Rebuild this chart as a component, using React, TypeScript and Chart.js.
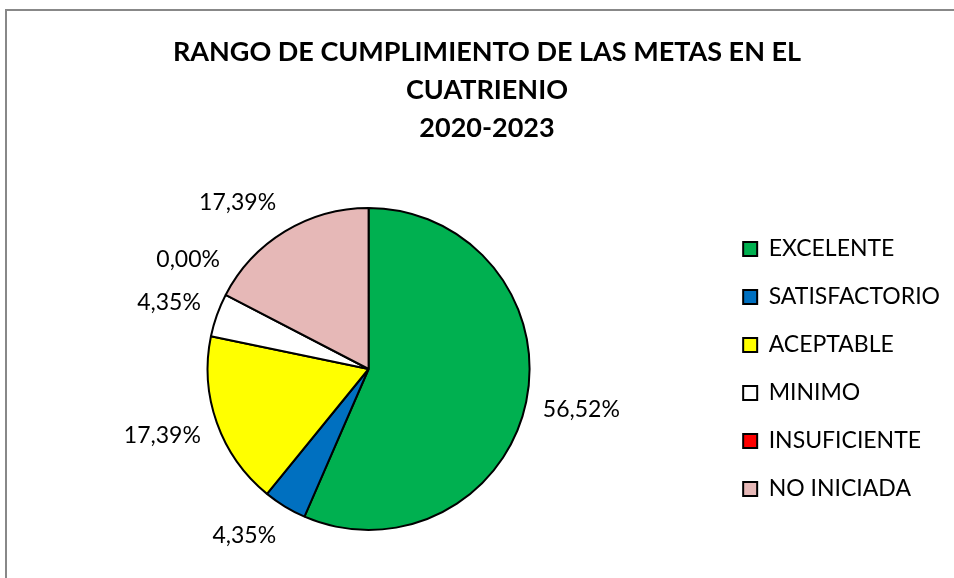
import React, { useEffect, useRef } from "react";
import { Chart, registerables } from "chart.js";

Chart.register(...registerables);

const categories = ["EXCELENTE", "SATISFACTORIO", "ACEPTABLE", "MINIMO", "INSUFICIENTE", "NO INICIADA"];
const percentages = [56.52, 4.35, 17.39, 4.35, 0.0, 17.39];
const sliceColors = ["#00B050", "#0070C0", "#FFFF00", "#FFFFFF", "#FF0000", "#E6B8B7"];
const titleLines = ["RANGO DE CUMPLIMIENTO DE LAS METAS EN EL", "CUATRIENIO", "2020-2023"];

const FONT = "Lato, 'Open Sans', sans-serif";

const fullWidthTitle = {
  id: "fullWidthTitle",
  afterLayout(chart: any) {
    const t = chart.titleBlock;
    if (t) {
      t.left = 0;
      t.right = chart.width;
      t.width = chart.width;
    }
  },
};

const outsideLabels = {
  id: "outsideLabels",
  afterDatasetsDraw(chart: any) {
    const ctx = chart.ctx;
    const meta = chart.getDatasetMeta(0);
    const data = chart.data.datasets[0].data as number[];
    ctx.save();
    ctx.font = `23px ${FONT}`;
    ctx.fillStyle = "#000";
    ctx.textAlign = "center";
    ctx.textBaseline = "middle";
    const placed: any[] = [];
    const h = 28;
    const gap = 17;
    const margin = 12;
    meta.data.forEach((arc: any, i: number) => {
      const { x, y, startAngle, endAngle, outerRadius } = arc.getProps(
        ["x", "y", "startAngle", "endAngle", "outerRadius"],
        true
      );
      const text = data[i].toFixed(2).replace(".", ",") + "%";
      const w = ctx.measureText(text).width;
      let a = (startAngle + endAngle) / 2;
      let box: any = null;
      for (let k = 0; k < 45; k++) {
        const cos = Math.cos(a);
        const sin = Math.sin(a);
        const d = outerRadius + gap;
        const cx = Math.max(-1, Math.min(1, cos * 2.5));
        const cy = Math.max(-1, Math.min(1, sin * 1.5));
        const bx = x + d * cos + (cx * w) / 2;
        const by = y + d * sin + (cy * h) / 2;
        box = { x: bx, y: by, l: bx - w / 2, r: bx + w / 2, t: by - h / 2, b: by + h / 2 };
        const hit = placed.some(
          (p) => box.l < p.r + margin && box.r > p.l - margin && box.t < p.b + margin && box.b > p.t - margin
        );
        if (!hit) break;
        a += Math.PI / 180;
      }
      placed.push(box);
      ctx.fillText(text, box.x, box.y);
    });
    ctx.restore();
  },
};

export default function App() {
  const canvasRef = useRef<HTMLCanvasElement | null>(null);

  useEffect(() => {
    if (!canvasRef.current) return;
    const chart = new Chart(canvasRef.current, {
      type: "pie",
      data: {
        labels: categories,
        datasets: [
          {
            data: percentages,
            backgroundColor: sliceColors,
            borderColor: "#000000",
            borderWidth: 2,
            radius: 161,
          },
        ],
      },
      options: {
        responsive: false,
        animation: false,
        devicePixelRatio: 1,
        layout: { padding: { left: 12, right: 17, top: 0, bottom: 70 } },
        plugins: {
          title: {
            display: true,
            text: titleLines,
            color: "#000",
            font: { family: FONT, size: 27, weight: "bold", lineHeight: 38 / 27 },
            padding: { top: 22, bottom: 50 },
          },
          legend: {
            display: true,
            position: "right",
            fullSize: false,
            labels: {
              color: "#000",
              font: { family: FONT, size: 23 },
              boxWidth: 14,
              boxHeight: 14,
              padding: 25,
            },
          },
          tooltip: { enabled: false },
        },
      },
      plugins: [fullWidthTitle, outsideLabels],
    });
    return () => chart.destroy();
  }, []);

  return (
    <div
      style={{
        position: "fixed",
        left: 5,
        top: 9,
        width: 962,
        height: 620,
        borderLeft: "2px solid #888888",
        borderTop: "2px solid #888888",
        background: "#fff",
      }}
    >
      <canvas ref={canvasRef} width={960} height={600} style={{ display: "block", width: 960, height: 600 }} />
    </div>
  );
}
